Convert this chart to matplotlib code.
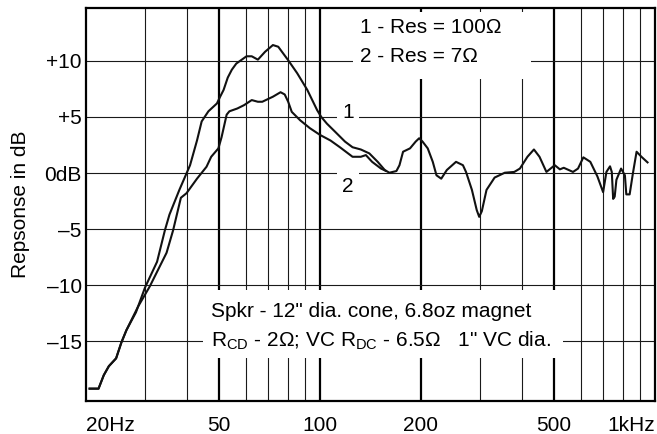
import matplotlib
matplotlib.use("Agg")
import matplotlib.pyplot as plt
from matplotlib.ticker import FixedLocator, NullLocator

plt.rcParams['font.family'] = ['Liberation Sans', 'DejaVu Sans']
plt.rcParams['mathtext.fontset'] = 'custom'
plt.rcParams['mathtext.rm'] = 'Liberation Sans'
plt.rcParams['mathtext.it'] = 'Liberation Sans:italic'

# curve 1 - Res = 100 ohm
f1 = [20.5, 21.8, 22.6, 23.4, 24.6, 25.5, 26.4, 28.2, 30, 32.6, 34.4, 35.5,
      38, 40.9, 42.9, 44.3, 46.4, 49.2, 50.3, 51.5, 53, 54.5, 56.2, 60.3,
      62.5, 65.2, 68.5, 72.3, 75, 80.3, 85.4, 91.6, 98, 100.8, 104.8, 110.7,
      118.7, 125, 132.3, 140.3, 148.6, 156, 161, 169, 172.6, 176.9, 185.6,
      192.9, 197.6, 202.3, 209.6, 217, 222.6, 230, 239, 254.6, 267, 272.7,
      284, 293.6, 298.6, 304, 314, 332, 356, 380, 395, 416, 435, 452, 474,
      502, 520, 534, 569, 589, 611, 641, 673, 700, 716, 734, 743, 750, 758,
      767, 792, 813, 821, 840, 859, 881, 911, 950]
d1 = [-19.2, -19.2, -18.0, -17.2, -16.5, -15.1, -14.0, -12.4, -10.2, -7.9,
      -5.1, -3.7, -1.5, 0.7, 2.9, 4.6, 5.5, 6.2, 6.8, 7.4, 8.5, 9.2, 9.75,
      10.4, 10.4, 10.1, 10.8, 11.4, 11.25, 10.05, 8.9, 7.4, 5.6, 5.0, 4.4,
      3.7, 2.8, 2.3, 2.1, 1.75, 1.0, 0.27, 0.03, 0.18, 0.7, 1.9, 2.2, 2.8,
      3.1, 2.8, 2.2, 1.0, -0.2, -0.5, 0.27, 1.0, 0.7, 0.1, -1.5, -3.3, -3.9,
      -3.4, -1.5, -0.4, 0.03, 0.1, 0.4, 1.45, 2.1, 1.45, 0.1, 0.7, 0.33,
      0.47, 0.1, 0.4, 1.4, 1.0, -0.3, -1.7, 0.1, 0.6, 0.1, -2.3, -2.1, -0.6,
      0.4, -0.2, -1.9, -1.9, -0.03, 1.9, 1.45, 0.95]

# curve 2 - Res = 7 ohm, joins curve 1 above ~155 Hz
f2 = [20.5, 21.8, 22.6, 23.4, 24.6, 25.5, 26.4, 28.6, 31.0, 34.8, 36.4, 38.4,
      39.9, 42.9, 45.8, 47.3, 49.7, 50.8, 52.6, 53.6, 56.6, 59.3, 62.5, 65.2,
      67.2, 72.3, 76.2, 78.4, 80.3, 82.3, 87.2, 93.2, 99.9, 107.4, 114.6,
      125, 132.3, 137, 143, 152, 157]
d2 = [-19.2, -19.2, -18.0, -17.2, -16.5, -15.1, -14.0, -11.9, -10.1, -7.1,
      -5.1, -2.2, -1.8, -0.5, 0.56, 1.45, 2.2, 3.2, 5.2, 5.5, 5.75, 6.05,
      6.5, 6.35, 6.35, 6.8, 7.2, 7.0, 6.35, 5.45, 4.7, 4.0, 3.4, 2.9, 2.3,
      1.45, 1.45, 1.6, 1.0, 0.4, 0.2]

xticks = [20, 50, 100, 200, 500, 1000]
xticklabels = ['20Hz', '50', '100', '200', '500', '1kHz']
yticks = [-15, -10, -5, 0, 5, 10]
yticklabels = ['\u201315', '\u201310', '\u20135', '0dB', '+5', '+10']

thin_v = [30, 40, 60, 70, 80, 90, 300, 400, 600, 700, 800, 900]
thick_v = [50, 100, 200, 500]

fig = plt.figure(figsize=(6.57, 4.34), dpi=100)
ax = fig.add_axes([86 / 657, 33 / 434, 569 / 657, 393 / 434])
ax.set_xscale('log')
ax.set_xlim(20, 1000)
ax.set_ylim(-20.3, 14.7)

for v in thin_v:
    ax.axvline(v, color='#1a1a1a', lw=0.8, zorder=1)
for v in thick_v:
    ax.axvline(v, color='black', lw=1.6, zorder=1)
for h in yticks:
    ax.axhline(h, color='#1a1a1a', lw=0.8, zorder=1)

ax.plot(f1, d1, color='#111111', lw=1.5, zorder=4, solid_joinstyle='round')
ax.plot(f2, d2, color='#111111', lw=1.5, zorder=4, solid_joinstyle='round')

ax.xaxis.set_major_locator(FixedLocator(xticks))
ax.xaxis.set_minor_locator(NullLocator())
ax.set_xticklabels(xticklabels)
ax.set_yticks(yticks)
ax.set_yticklabels(yticklabels)
ax.tick_params(axis='both', length=0, labelsize=15)
ax.tick_params(axis='x', pad=11)
ax.tick_params(axis='y', pad=3)
lbls = ax.get_xticklabels()
lbls[0].set_ha('left')
lbls[-1].set_ha('right')
ax.set_ylabel('Repsonse in dB', fontsize=15)
ax.yaxis.set_label_coords(-0.098, 0.5)

for s in ax.spines.values():
    s.set_linewidth(1.6)

# white panels behind the notes
ax.add_patch(plt.Rectangle((0.469, 0.819), 0.313, 0.170, transform=ax.transAxes,
                           facecolor='white', edgecolor='none', zorder=2))
ax.add_patch(plt.Rectangle((0.206, 0.109), 0.632, 0.173, transform=ax.transAxes,
                           facecolor='white', edgecolor='none', zorder=2))

ax.text(0.482, 0.936, '1 - Res = 100\u03a9', transform=ax.transAxes,
        fontsize=15, va='baseline', zorder=3)
ax.text(0.482, 0.863, '2 - Res = 7\u03a9', transform=ax.transAxes,
        fontsize=15, va='baseline', zorder=3)
ax.text(0.220, 0.214, 'Spkr - 12" dia. cone, 6.8oz magnet', transform=ax.transAxes,
        fontsize=15, va='baseline', zorder=3)
ax.text(0.220, 0.137,
        '$\\mathregular{R_{CD}}$ - 2\u03a9; VC $\\mathregular{R_{DC}}$ - 6.5\u03a9   1" VC dia.',
        transform=ax.transAxes, fontsize=15, va='baseline', zorder=3)

for t, yy in (('1', 0.733), ('2', 0.545)):
    ax.text(0.460, yy, t, transform=ax.transAxes, fontsize=15, ha='center',
            va='center', zorder=3,
            bbox=dict(boxstyle='square,pad=0.25', facecolor='white', edgecolor='none'))

fig.savefig('out.png', dpi=100)
